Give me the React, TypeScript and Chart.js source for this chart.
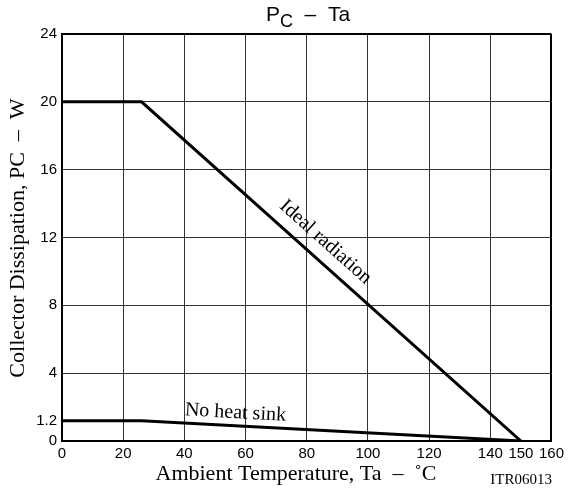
import React, { useEffect, useRef } from "react";
import { Chart, registerables } from "chart.js";

Chart.register(...registerables);

const xTicks = [0, 20, 40, 60, 80, 100, 120, 140, 150, 160];
const yTicks = [0, 1.2, 4, 8, 12, 16, 20, 24];
const idealX = [0, 26, 150];
const idealY = [20, 20, 0];
const noSinkX = [0, 26, 150];
const noSinkY = [1.2, 1.2, 0];

const SERIF = '"Liberation Serif", "Times New Roman", serif';
const SANS = '"Liberation Sans", Arial, sans-serif';

const textPlugin = {
  id: "texts",
  afterDraw(chart: any) {
    const ctx = chart.ctx;
    const xs = chart.scales.x;
    const ys = chart.scales.y;
    ctx.save();
    ctx.fillStyle = "#000";
    // Title
    ctx.textBaseline = "alphabetic";
    ctx.textAlign = "left";
    ctx.font = `21px ${SANS}`;
    const wP = ctx.measureText("P").width;
    ctx.font = `18px ${SANS}`;
    const wC = ctx.measureText("C").width;
    ctx.font = `21px ${SANS}`;
    const rest = "  –  Ta";
    const wR = ctx.measureText(rest).width;
    let tx = 308 - (wP + wC + wR) / 2;
    ctx.fillText("P", tx, 21);
    tx += wP;
    ctx.font = `18px ${SANS}`;
    ctx.fillText("C", tx, 27);
    tx += wC;
    ctx.font = `21px ${SANS}`;
    ctx.fillText(rest, tx, 21);

    // X axis title
    ctx.font = `22px ${SERIF}`;
    ctx.textAlign = "center";
    ctx.fillText("Ambient Temperature, Ta  –  ˚C", 296, 480);
    // code
    ctx.font = `15px ${SERIF}`;
    ctx.textAlign = "right";
    ctx.fillText("ITR06013", 552, 484);

    // Y axis title
    ctx.save();
    ctx.translate(24, 238);
    ctx.rotate(-Math.PI / 2);
    ctx.font = `22px ${SERIF}`;
    ctx.textAlign = "center";
    ctx.fillText("Collector Dissipation, PC  –  W", 0, 0);
    ctx.restore();

    // Ideal radiation label
    const x1 = xs.getPixelForValue(idealX[1]);
    const y1 = ys.getPixelForValue(idealY[1]);
    const x2 = xs.getPixelForValue(idealX[2]);
    const y2 = ys.getPixelForValue(idealY[2]);
    const ang = Math.atan2(y2 - y1, x2 - x1);
    ctx.save();
    ctx.translate(xs.getPixelForValue(83) + 4, ys.getPixelForValue(10.9) - 8);
    ctx.rotate(ang);
    ctx.font = `20px ${SERIF}`;
    ctx.textAlign = "center";
    ctx.textBaseline = "alphabetic";
    ctx.fillText("Ideal radiation", 0, -3);
    ctx.restore();

    // No heat sink label
    const n1x = xs.getPixelForValue(noSinkX[1]);
    const n1y = ys.getPixelForValue(noSinkY[1]);
    const n2x = xs.getPixelForValue(noSinkX[2]);
    const n2y = ys.getPixelForValue(noSinkY[2]);
    const ang2 = Math.atan2(n2y - n1y, n2x - n1x);
    ctx.save();
    ctx.translate(xs.getPixelForValue(56.5), ys.getPixelForValue(1.0));
    ctx.rotate(ang2);
    ctx.font = `20px ${SERIF}`;
    ctx.textAlign = "center";
    ctx.fillText("No heat sink", 0, -6);
    ctx.restore();

    ctx.restore();
  },
};

export default function App() {
  const ref = useRef<HTMLCanvasElement>(null);
  useEffect(() => {
    if (!ref.current) return;
    const chart = new Chart(ref.current, {
      type: "scatter",
      data: {
        datasets: [
          {
            label: "Ideal radiation",
            data: idealX.map((x, i) => ({ x, y: idealY[i] })),
            showLine: true,
            borderColor: "#000",
            borderWidth: 3,
            pointRadius: 0,
            tension: 0,
          },
          {
            label: "No heat sink",
            data: noSinkX.map((x, i) => ({ x, y: noSinkY[i] })),
            showLine: true,
            borderColor: "#000",
            borderWidth: 3,
            pointRadius: 0,
            tension: 0,
          },
        ],
      },
      options: {
        animation: false,
        responsive: false,
        devicePixelRatio: 1,
        layout: { padding: { left: 0, top: 34, right: 15, bottom: 0 } },
        plugins: {
          legend: { display: false },
          tooltip: { enabled: false },
          title: { display: false },
        },
        scales: {
          x: {
            type: "linear",
            min: 0,
            max: 160,
            afterBuildTicks: (s: any) => {
              s.ticks = xTicks.map((v) => ({ value: v }));
            },
            afterFit: (s: any) => {
              s.height = 51;
            },
            ticks: {
              autoSkip: false,
              maxRotation: 0,
              padding: 4,
              color: "#000",
              font: { family: SANS, size: 15 },
              callback: (v: any) => String(v),
            },
            grid: {
              drawTicks: false,
              color: (c: any) =>
                c.tick && c.tick.value === 150 ? "rgba(0,0,0,0)" : c.tick && c.tick.value === 160 ? "#000" : "#333",
              lineWidth: (c: any) => (c.tick && c.tick.value === 160 ? 2 : 1),
            },
            border: { display: true, color: "#000", width: 2 },
          },
          y: {
            type: "linear",
            min: 0,
            max: 24,
            afterBuildTicks: (s: any) => {
              s.ticks = yTicks.map((v) => ({ value: v }));
            },
            afterFit: (s: any) => {
              s.width = 62;
            },
            ticks: {
              autoSkip: false,
              padding: 5,
              color: "#000",
              font: { family: SANS, size: 15 },
              callback: (v: any) => String(v),
            },
            grid: {
              drawTicks: false,
              color: (c: any) =>
                c.tick && c.tick.value === 1.2 ? "rgba(0,0,0,0)" : c.tick && c.tick.value === 24 ? "#000" : "#333",
              lineWidth: (c: any) => (c.tick && c.tick.value === 24 ? 2 : 1),
            },
            border: { display: true, color: "#000", width: 2 },
          },
        },
      },
      plugins: [textPlugin],
    });
    return () => chart.destroy();
  }, []);
  return (
    <div style={{ position: "fixed", left: 0, top: 0, width: 568, height: 492, background: "#fff" }}>
      <canvas ref={ref} width={568} height={492} style={{ display: "block" }} />
    </div>
  );
}
